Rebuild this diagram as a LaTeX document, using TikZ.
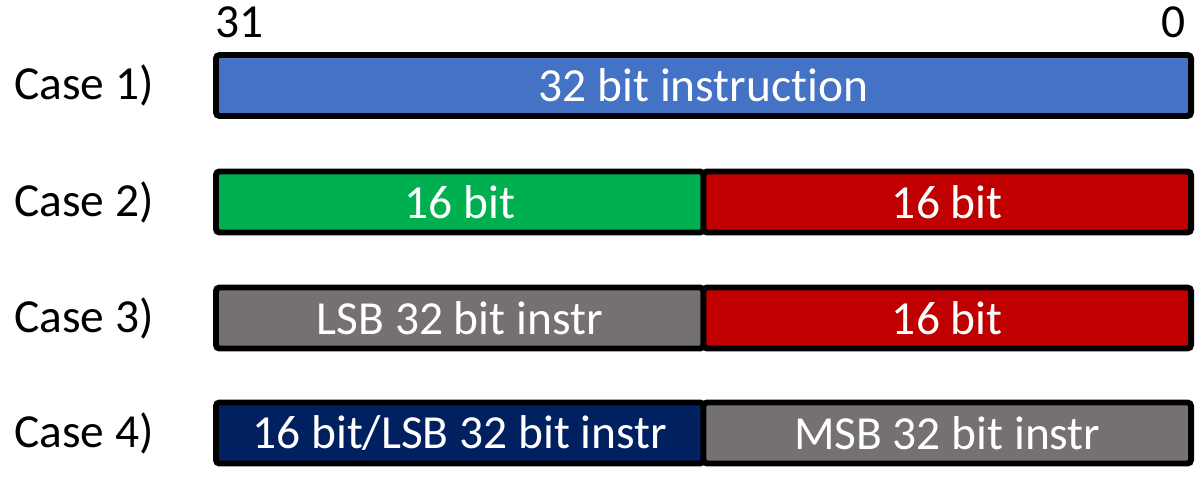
\documentclass[tikz,border=0pt]{standalone}
\usepackage{fontspec}
\setmainfont[Ligatures={NoCommon}]{Carlito}
\usetikzlibrary{positioning}

\definecolor{fblue}{HTML}{4472C4}
\definecolor{fgreen}{HTML}{00B050}
\definecolor{fred}{HTML}{C00000}
\definecolor{fgray}{HTML}{767171}
\definecolor{fnavy}{HTML}{002060}

\begin{document}
\begin{tikzpicture}[
  fld/.style={draw, line width=3.4pt, rounded corners=2pt, minimum height=1.22cm,
              inner sep=0pt, text=white, font=\fontsize{27}{32}\selectfont},
  full/.style={fld, minimum width=19.5cm},
  half/.style={fld, minimum width=9.75cm},
  lbl/.style={font=\fontsize{27}{32}\selectfont, inner sep=0pt}
]
  \useasboundingbox (0,0) rectangle (24.08,-9.54);

  % bit numbers
  \node[lbl, anchor=base west] (msb) at (4.3,-0.76)  {31};
  \node[lbl, anchor=base east] (lsb) at (23.72,-0.76) {0};

  % one row per case
  \node[full, fill=fblue]  (c1)  at (14.07,-1.71) {32 bit instruction};
  \node[half, fill=fgreen] (c2l) at (9.195,-4.04)  {16 bit};
  \node[half, fill=fred]   (c2r) at (18.945,-4.04) {16 bit};
  \node[half, fill=fgray]  (c3l) at (9.195,-6.36)  {LSB 32 bit instr};
  \node[half, fill=fred]   (c3r) at (18.945,-6.36) {16 bit};
  \node[half, fill=fnavy]  (c4l) at (9.195,-8.66)  {16 bit/LSB 32 bit instr};
  \node[half, fill=fgray]  (c4r) at (18.945,-8.66) {MSB 32 bit instr};

  \node[lbl, left=1.18cm of c1]  (l1) {Case 1)};
  \node[lbl, left=1.18cm of c2l] (l2) {Case 2)};
  \node[lbl, left=1.18cm of c3l] (l3) {Case 3)};
  \node[lbl, left=1.18cm of c4l] (l4) {Case 4)};
\end{tikzpicture}
\end{document}
